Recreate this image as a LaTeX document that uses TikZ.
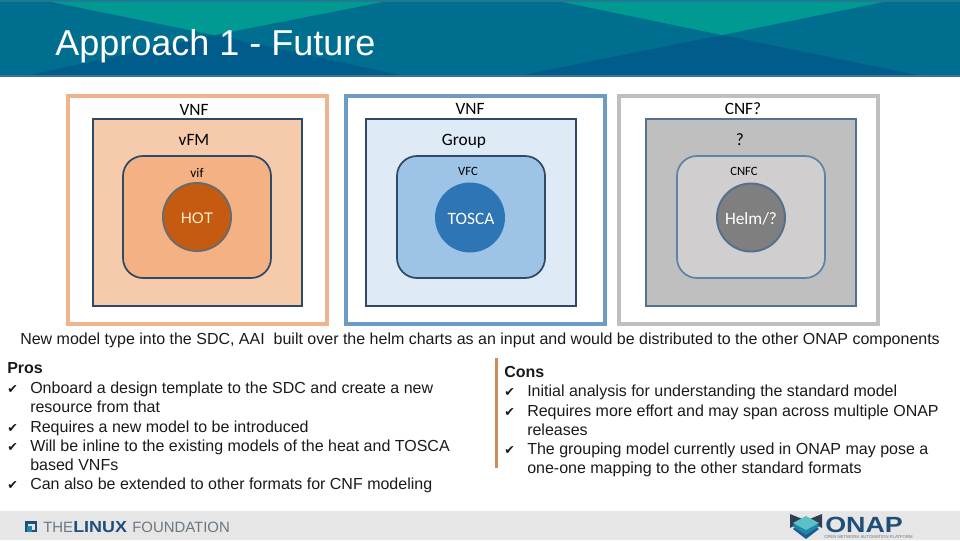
\documentclass[tikz,border=0pt]{standalone}
\usepackage{fontspec}
\setmainfont{Liberation Sans}
\newfontfamily\lblfont{Carlito}
\newfontfamily\tickfont{DejaVu Sans}
\definecolor{hbase}{HTML}{006F8F}
\definecolor{hdark}{HTML}{005C8A}
\definecolor{hteal}{HTML}{009A93}
\definecolor{hline}{HTML}{3F7390}
\definecolor{hedge}{HTML}{1F7A94}
\definecolor{frameDark}{HTML}{2F4A66}
\definecolor{frameMid}{HTML}{54708F}
\definecolor{frameLight}{HTML}{5F82A8}
\definecolor{foot}{HTML}{E6E6E6}
\definecolor{txt}{HTML}{1A1A1A}
\definecolor{onapblue}{HTML}{1F4E79}
\definecolor{lfgrey}{HTML}{6D7780}
\definecolor{bowdark}{HTML}{2F3E50}
\definecolor{dia1}{HTML}{5CC0C8}
\definecolor{dia2}{HTML}{1E88A8}
\definecolor{dia3}{HTML}{1F5A8C}
\definecolor{ao}{HTML}{EFB48C}\definecolor{ai}{HTML}{F6CBAC}\definecolor{ar}{HTML}{F4B183}\definecolor{ac}{HTML}{C55A11}
\definecolor{bo}{HTML}{6C9BC8}\definecolor{bi}{HTML}{DEEBF7}\definecolor{br}{HTML}{9DC3E6}\definecolor{bc}{HTML}{2E75B6}
\definecolor{co}{HTML}{BFBFBF}\definecolor{ci}{HTML}{BFBFBF}\definecolor{cr}{HTML}{D0CECE}\definecolor{cc}{HTML}{7F7F7F}
\definecolor{barc}{HTML}{D08B5B}
\definecolor{cream}{HTML}{FFF2CC}
\tikzset{
  x=0.75pt,y=-0.75pt,
  outerbox/.style={line width=3pt,fill=white},
  innerbox/.style={line width=1.3pt},
  roundbox/.style={line width=1.3pt,rounded corners=15pt},
  core/.style={circle,line width=1.5pt,minimum size=51pt,inner sep=0pt},
  lab/.style={anchor=base,text=black,inner sep=0pt,font=\lblfont\fontsize{13}{13}\selectfont},
  corelab/.style={lab,text=white},
  smalllab/.style={anchor=base,text=black,inner sep=0pt,font=\lblfont\fontsize{9.5}{10}\selectfont},
  body/.style={anchor=base west,text=txt,inner sep=0pt,font=\fontsize{12}{12}\selectfont},
  head/.style={anchor=base west,text=txt,inner sep=0pt,font=\bfseries\fontsize{12}{12}\selectfont},
  tick/.style={anchor=base west,text=txt,inner sep=0pt,font=\tickfont\fontsize{9.5}{12}\selectfont},
  lfthin/.style={anchor=base west,inner sep=0pt,text=lfgrey,font=\fontsize{11.2}{12}\selectfont},
}
\begin{document}
\begin{tikzpicture}
\useasboundingbox (0,0) rectangle (960,540);
% header
\fill[hbase] (0,0) rectangle (960,76);
\fill[hdark] (30,75) -- (214,35) -- (400,75) -- cycle;
\fill[hdark] (523,75) -- (722,35) -- (917,75) -- cycle;
\fill[hteal] (42,0) -- (393,0) -- (214,35) -- cycle;
\fill[hteal] (553,0) -- (893,0) -- (722,35) -- cycle;
\fill[hedge] (0,0) rectangle (960,1.5);
\fill[hline] (0,75) rectangle (960,77);
\node[anchor=base west,inner sep=0pt,text=white,font=\fontsize{27}{27}\selectfont] (title) at (55,55) {Approach 1 - Future};
% panel 1
\draw[outerbox,draw=ao] (68,96) rectangle (327,324);
\draw[innerbox,draw=frameDark,fill=ai] (93,119) rectangle (302,306);
\draw[roundbox,draw=frameDark,fill=ar] (123,156) rectangle (271,278);
\node[core,draw=black!58,fill=ac] (hotc) at (197,217) {};
\node[anchor=base,inner sep=0pt,text=cream,font=\fontsize{11.5}{12}\selectfont] (hot) at (197,223) {HOT};
\node[lab] (vnfa) at (194,115) {VNF};
\node[lab] (vfm) at (194,145) {vFM};
\node[smalllab,font=\lblfont\fontsize{10}{10}\selectfont] (vif) at (197,177) {vif};
% panel 2
\draw[outerbox,draw=bo] (346,96) rectangle (605,324);
\draw[innerbox,draw=frameDark,fill=bi] (366,119) rectangle (576,306);
\draw[roundbox,draw=frameDark,fill=br] (397,156) rectangle (545,278);
\node[core,draw=bc,fill=bc] (toscac) at (470,217.5) {};
\node[corelab] (tosca) at (471,224) {TOSCA};
\node[lab] (vnfb) at (470,114) {VNF};
\node[lab] (group) at (464,145) {Group};
\node[smalllab] (vfc) at (468,175) {VFC};
% panel 3
\draw[outerbox,draw=co] (619,96) rectangle (878,324);
\draw[innerbox,draw=frameMid,fill=ci] (646,119) rectangle (856,306);
\draw[roundbox,draw=frameLight,fill=cr] (677,156) rectangle (825,278);
\node[core,draw=frameMid,fill=cc] (helmc) at (751,217.5) {};
\node[corelab] (helm) at (751,224) {Helm/?};
\node[lab] (cnf) at (743,114) {CNF?};
\node[lab] (q) at (740,145) {?};
\node[smalllab] (cnfc) at (744,175) {CNFC};
% caption
\node[body] (cap) at (20,344) {New model type into the SDC, AAI\ \ built over the helm charts as an input and would be distributed to the other ONAP components};
% pros
\node[head] (pros) at (7,373) {Pros};
\node[tick] at (7,393) {✔};\node[body] at (30,393) {Onboard a design template to the SDC and create a new};
\node[body] at (30,412) {resource from that};
\node[tick] at (7,432) {✔};\node[body] at (30,432) {Requires a new model to be introduced};
\node[tick] at (7,451) {✔};\node[body] at (30,451) {Will be inline to the existing models of the heat and TOSCA};
\node[body] at (30,470) {based VNFs};
\node[tick] at (7,489) {✔};\node[body] at (30,489) {Can also be extended to other formats for CNF modeling};
% cons
\fill[barc] (495,358) rectangle (498,468);
\node[head] (cons) at (504,377) {Cons};
\node[tick] at (504,396) {✔};\node[body] at (527,396) {Initial analysis for understanding the standard model};
\node[tick] at (504,416) {✔};\node[body] at (527,416) {Requires more effort and may span across multiple ONAP};
\node[body] at (527,435) {releases};
\node[tick] at (504,454) {✔};\node[body] at (527,454) {The grouping model currently used in ONAP may pose a};
\node[body] at (527,473) {one-one mapping to the other standard formats};
% footer
\fill[foot] (0,511) rectangle (960,540);
% Linux Foundation logo
\fill[onapblue] (25,521) rectangle (37,532);
\fill[foot] (28,523.5) rectangle (35,529.5);
\fill[dia2] (27,526) rectangle (32,532);
\node[lfthin] (lfa) at (43,532) {THE};
\node[anchor=base west,inner sep=0pt,text=onapblue,xscale=1.12,font=\bfseries\fontsize{12}{12}\selectfont] (lfb) at (73,532) {LINUX};
\node[lfthin] (lfc) at (132,532) {FOUNDATION};
% ONAP logo
\fill[bowdark] (790,514) -- (805,520) -- (790,528) -- cycle;
\fill[bowdark] (822,514) -- (807,520) -- (822,528) -- cycle;
\fill[dia3] (806,519) -- (819,529) -- (806,539) -- (793,529) -- cycle;
\fill[dia2] (806,517) -- (820,526) -- (806,535) -- (792,526) -- cycle;
\fill[dia1] (806,516) -- (819,523) -- (806,530) -- (793,523) -- cycle;
\node[anchor=base west,inner sep=0pt,text=onapblue,xscale=1.22,font=\bfseries\fontsize{16.5}{17}\selectfont] (onap) at (825,532) {ONAP};
\node[anchor=base west,inner sep=0pt,text=lfgrey,font=\fontsize{3.2}{3.2}\selectfont] (onapsub) at (824,538.5) {OPEN NETWORK AUTOMATION PLATFORM};
\end{tikzpicture}
\end{document}
